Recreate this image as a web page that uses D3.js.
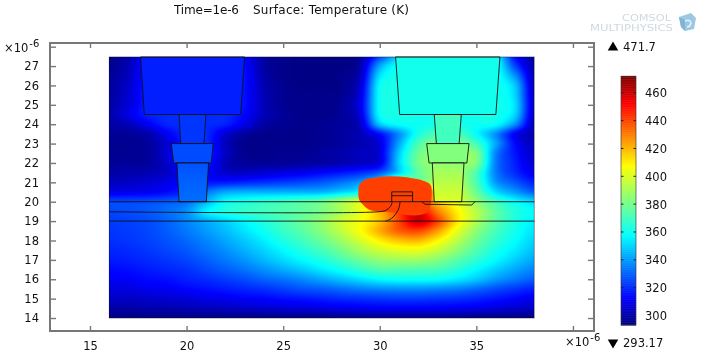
<!DOCTYPE html>
<html>
<head>
<meta charset="utf-8">
<style>
    html, body { margin: 0; padding: 0; background: #fff; }
    #chart { position: relative; width: 717px; height: 357px; overflow: hidden; }
    #chart canvas, #chart svg { position: absolute; left: 0; top: 0; }
    text { font-family: "DejaVu Sans", sans-serif; fill: #111; }
</style>
<script src="https://cdn.jsdelivr.net/npm/d3@7"></script>
</head>
<body>
<div id="chart"></div>
<script>
// temperature samples (K), columns 16..38 um, rows bottom to top
const gridX = d3.range(16, 39)
const gridY = d3.range(14, 28, 0.5)
const gridT = [
    [294,294,294,294,294,294,294,294,294,294,294,294,295,295,295,295,295,295,295,294,294,294,294],
    [299,299,300,300,301,302,303,304,305,306,307,308,309,310,311,311,311,311,310,309,307,305,303],
    [304,304,305,306,307,309,310,312,313,315,316,318,320,321,322,323,323,322,321,319,316,313,310],
    [308,308,310,311,313,315,317,319,321,324,327,329,332,335,337,338,338,337,335,331,326,322,318],
    [311,312,314,315,318,320,323,326,330,333,337,342,347,352,357,359,359,358,354,348,340,334,329],
    [314,315,317,319,321,325,329,333,338,343,348,354,360,367,373,373,372,371,365,357,349,342,336],
    [317,318,320,322,325,329,334,339,345,351,357,363,371,379,386,388,388,383,375,366,357,349,342],
    [319,320,322,325,328,333,338,344,350,357,364,371,380,390,398,402,403,396,385,373,362,354,347],
    [321,322,324,327,331,336,342,348,355,363,370,378,388,399,410,418,420,409,394,379,367,358,350],
    [322,323,325,329,334,340,346,353,360,368,375,384,395,407,422,436,440,425,403,385,371,361,353],
    [323,324,326,330,336,343,350,357,364,371,378,386,397,406,418,440,460,440,412,392,375,363,355],
    [325,326,328,332,338,355,363,367,370,373,376,381,390,403,420,441,455,430,410,393,376,364,358],
    [325,325,326,328,332,344,358,362,366,369,373,378,389,403,425,441,440,418,403,386,370,358,351],
    [309,310,311,314,320,333,342,344,344,344,344,345,350,360,400,441,441,415,398,378,352,340,330],
    [303,304,306,309,315,316,317,319,321,323,325,328,333,340,360,400,385,393,393,372,340,328,318],
    [299,300,301,304,314,313,305,304,306,308,310,313,316,320,328,350,376,388,388,372,335,320,310],
    [297,297,298,305,318,318,302,297,297,297,298,299,301,304,309,350,380,386,386,382,335,318,306],
    [296,296,297,307,320,320,304,296,295,296,296,298,300,303,308,348,378,385,385,382,336,316,304],
    [296,296,298,306,320,320,303,295,295,295,295,296,298,301,308,342,372,382,382,370,342,314,302],
    [297,297,300,311,320,320,306,298,295,295,295,296,298,302,315,338,362,372,372,358,338,312,300],
    [299,302,311,319,320,320,318,309,299,296,295,296,298,304,348,358,360,361,361,360,358,338,301],
    [300,309,318,320,320,320,320,313,302,297,295,295,297,308,358,361,361,361,361,361,361,350,303],
    [299,307,318,320,320,320,320,315,302,296,295,295,297,310,359,361,361,361,361,361,361,352,304],
    [298,306,318,320,320,320,320,315,302,296,295,295,296,308,359,361,361,361,361,361,361,350,303],
    [298,305,318,320,320,320,320,315,301,296,294,294,295,306,358,361,361,361,361,361,361,348,302],
    [297,303,318,320,320,320,320,315,300,295,294,294,295,303,352,361,361,361,361,361,361,338,301],
    [296,302,318,320,320,320,320,314,299,295,294,294,294,300,342,360,361,361,361,361,361,325,300],
    [295,300,316,320,320,320,320,312,298,295,294,294,294,298,325,350,361,361,361,361,358,315,298]
]

// subdomains: outline in um and the temperature inside it
const leftTopMetal = [[17.62,27.47],[17.81,24.5],[22.8,24.5],[23,27.47]]
const leftUpperVia = [[19.61,24.5],[19.69,23],[20.9,23],[21,24.5]]
const leftMidMetal = [[19.21,23],[21.38,23],[21.28,22],[19.33,22]]
const leftLowerVia = [[19.5,22],[19.61,20],[21.02,20],[21.14,22]]
const rightTopMetal = [[30.82,27.47],[31.03,24.5],[36.01,24.5],[36.22,27.47]]
const rightUpperVia = [[32.82,24.5],[32.93,23],[34.11,23],[34.22,24.5]]
const rightMidMetal = [[32.43,23],[34.62,23],[34.51,22],[32.55,22]]
const rightLowerVia = [[32.72,22],[32.82,20],[34.24,20],[34.36,22]]
const hotBlob = [[28.89,20.43],[28.94,20.86],[29.15,21.08],[29.58,21.22],[30.53,21.32],[31.39,21.26],[32.25,21.08],[32.63,20.86],[32.69,20.43],[32.63,19.83],[32.51,19.48],[32.08,19.31],[31.39,19.31],[30.87,19.43],[30.18,19.47],[29.49,19.57],[29.15,19.83],[28.94,20.09]]
const gateBox = [[30.62,20],[30.62,20.51],[31.7,20.51],[31.7,20]]
const drainCap = [[32.17,20],[32.34,19.87],[34.76,19.83],[34.93,20]]

const domainTemps = [
    { outline: leftTopMetal, temp: 318, tempLow: 318 },
    { outline: leftUpperVia, temp: 322, tempLow: 322 },
    { outline: leftMidMetal, temp: 326, tempLow: 326 },
    { outline: leftLowerVia, temp: 327, tempLow: 332 },
    { outline: rightTopMetal, temp: 361, tempLow: 361 },
    { outline: rightUpperVia, temp: 370, tempLow: 370 },
    { outline: rightMidMetal, temp: 383, tempLow: 383 },
    { outline: rightLowerVia, temp: 386, tempLow: 401 }
]

const layerLines = [
    [[16,20],[38,20]],
    [[16,19],[38,19]],
    [[31.7,20.31],[30.62,20.31]]
]
const curvedLines = [
    [[16,19.48],[29.9,19.48],[30.3,19.55],[30.55,19.75],[30.65,20]],
    [[30.3,19],[30.6,19.13],[30.85,19.4],[31,19.7],[31.05,20]]
]

const xTicks = [15, 20, 25, 30, 35, 40]
const xLabels = [15, 20, 25, 30, 35]
const yTicks = d3.range(14, 29)
const yLabels = d3.range(14, 28)
const barLabels = [300, 320, 340, 360, 380, 400, 420, 440, 460]
const tempMin = 293.17
const tempMax = 471.7

const jetStops = [0, 0.11, 0.36, 0.64, 0.89, 1]
const jetColors = ['#000080', '#0000ff', '#00ffff', '#ffff00', '#ff0000', '#800000']

const width = 717
const height = 357

const x = d3.scaleLinear().domain([12.93, 41.09]).range([50, 594])
const y = d3.scaleLinear().domain([28.19, 13.33]).range([43, 331])
const barY = d3.scaleLinear().domain([tempMin, tempMax]).range([325, 76.5])
const color = d3.scaleLinear()
    .domain(jetStops.map(t => tempMin + t * (tempMax - tempMin)))
    .range(jetColors)
    .clamp(true)

const chart = d3.select('#chart')

// field, sampled per pixel with a clamped catmull-rom through the grid
const cubic = (a, b, c, d, t) => {
    const v = b + 0.5 * t * (c - a + t * (2 * a - 5 * b + 4 * c - d + t * (3 * (b - c) + d - a)))
    return Math.max(Math.min(b, c) - 1, Math.min(Math.max(b, c) + 1, v))
}
const cols = gridX.length
const rows = gridY.length
const sampleField = (ux, uy) => {
    const fx = Math.max(0, Math.min(cols - 1.001, ux - gridX[0]))
    const fy = Math.max(0, Math.min(rows - 1.001, (uy - gridY[0]) * 2))
    const i = Math.floor(fx)
    const j = Math.floor(fy)
    const inCol = r => {
        const row = gridT[Math.max(0, Math.min(rows - 1, r))]
        const at = k => row[Math.max(0, Math.min(cols - 1, k))]
        return cubic(at(i - 1), at(i), at(i + 1), at(i + 2), fx - i)
    }
    return cubic(inCol(j - 1), inCol(j), inCol(j + 1), inCol(j + 2), fy - j)
}

const canvas = chart.append('canvas').attr('width', width).attr('height', height)
const ctx = canvas.node().getContext('2d')
const x0 = Math.round(x(16))
const x1 = Math.round(x(38))
const y0 = Math.round(y(27.47))
const y1 = Math.round(y(14))
for (let py = y0; py < y1; py++) {
    for (let px = x0; px < x1; px++) {
        ctx.fillStyle = color(sampleField(x.invert(px + 0.5), y.invert(py + 0.5)))
        ctx.fillRect(px, py, 1, 1)
    }
}

const svg = chart.append('svg').attr('width', width).attr('height', height)
const defs = svg.append('defs')

const outline = d3.line().x(d => x(d[0])).y(d => y(d[1]))
const smooth = d3.line().x(d => x(d[0])).y(d => y(d[1])).curve(d3.curveCatmullRom)
const blobPath = d3.line().x(d => x(d[0])).y(d => y(d[1])).curve(d3.curveCatmullRomClosed)

svg.append('path')
    .attr('d', blobPath(hotBlob))
    .attr('fill', color(441))

domainTemps.forEach((d, i) => {
    const grad = defs.append('linearGradient')
        .attr('id', `domain-${i}`)
        .attr('gradientUnits', 'userSpaceOnUse')
        .attr('x1', 0).attr('x2', 0)
        .attr('y1', y(d.outline[0][1])).attr('y2', y(d.outline[1][1]))
    grad.append('stop').attr('offset', 0).attr('stop-color', color(d.temp))
    grad.append('stop').attr('offset', 1).attr('stop-color', color(d.tempLow))
})

svg.selectAll('.domain-fill')
    .data(domainTemps)
    .join('path')
    .attr('class', 'domain-fill')
    .attr('d', d => outline(d.outline) + 'Z')
    .attr('fill', (d, i) => `url(#domain-${i})`)
    .attr('stroke', '#111')
    .attr('stroke-width', 0.9)

const thin = sel => sel.attr('fill', 'none').attr('stroke', '#111').attr('stroke-width', 0.9)

svg.selectAll('.layer').data(layerLines).join('path').attr('class', 'layer')
    .attr('d', d => outline(d)).call(thin)
svg.selectAll('.curved').data(curvedLines).join('path').attr('class', 'curved')
    .attr('d', d => smooth(d)).call(thin)
svg.append('path').attr('d', outline(gateBox)).call(thin)
svg.append('path').attr('d', outline(drainCap)).call(thin)
svg.append('rect')
    .attr('x', x(16)).attr('y', y(27.47))
    .attr('width', x(38) - x(16)).attr('height', y(14) - y(27.47))
    .call(thin).attr('stroke-opacity', 0.5)

// axes, ticks pointing into the frame on all four sides
const frameColor = '#777'
const styleAxis = g => {
    g.select('.domain').remove()
    g.selectAll('.tick line').attr('stroke', frameColor).attr('stroke-width', 1.4)
    g.selectAll('text').attr('font-family', '"DejaVu Sans", sans-serif').attr('font-size', 11.5).attr('fill', '#111')
}
const xFormat = d => xLabels.includes(d) ? d : ''
const yFormat = d => yLabels.includes(d) ? d : ''

svg.append('g').attr('transform', `translate(0,${y.range()[1]})`)
    .call(d3.axisBottom(x).tickValues(xTicks).tickFormat(xFormat).tickSize(-5).tickPadding(11))
    .call(styleAxis)
svg.append('g').attr('transform', `translate(0,${y.range()[0]})`)
    .call(d3.axisTop(x).tickValues(xTicks).tickFormat('').tickSize(-5))
    .call(styleAxis)
svg.append('g').attr('transform', `translate(${x.range()[0]},0)`)
    .call(d3.axisLeft(y).tickValues(yTicks).tickFormat(yFormat).tickSize(-6).tickPadding(11))
    .call(styleAxis)
svg.append('g').attr('transform', `translate(${x.range()[1]},0)`)
    .call(d3.axisRight(y).tickValues(yTicks).tickFormat('').tickSize(-6))
    .call(styleAxis)

svg.append('rect')
    .attr('x', x.range()[0]).attr('y', y.range()[0])
    .attr('width', x.range()[1] - x.range()[0]).attr('height', y.range()[1] - y.range()[0])
    .attr('fill', 'none').attr('stroke', frameColor).attr('stroke-width', 2)

// exponent marks
const exponent = (px, py) => {
    const t = svg.append('text').attr('x', px).attr('y', py).attr('font-size', 11.5)
    t.append('tspan').text('×10')
    t.append('tspan').text('-6').attr('font-size', 10).attr('dy', -5).attr('dx', 1)
}
exponent(4, 52)
exponent(565, 346)

svg.append('text').attr('x', 174).attr('y', 14).attr('font-size', 12)
    .attr('textLength', 65).text('Time=1e-6')
svg.append('text').attr('x', 253).attr('y', 14).attr('font-size', 12)
    .attr('textLength', 156).text('Surface: Temperature (K)')

// colour bar
const barX = 621
const barW = 15
svg.selectAll('.bar-cell')
    .data(d3.range(tempMin, tempMax, 0.5))
    .join('rect')
    .attr('class', 'bar-cell')
    .attr('x', barX).attr('width', barW)
    .attr('y', d => barY(d + 0.5)).attr('height', d => barY(d) - barY(d + 0.5) + 0.5)
    .attr('fill', d => color(d))
svg.append('rect')
    .attr('x', barX).attr('y', barY(tempMax))
    .attr('width', barW).attr('height', barY(tempMin) - barY(tempMax))
    .attr('fill', 'none').attr('stroke', '#333').attr('stroke-opacity', 0.7).attr('stroke-width', 0.9)
svg.selectAll('.bar-tick-l')
    .data(barLabels)
    .join('line')
    .attr('class', 'bar-tick-l')
    .attr('x1', barX).attr('x2', barX + 2.5)
    .attr('y1', d => barY(d)).attr('y2', d => barY(d))
    .attr('stroke', '#222')
svg.selectAll('.bar-tick-r')
    .data(barLabels)
    .join('line')
    .attr('class', 'bar-tick-r')
    .attr('x1', barX + barW - 2.5).attr('x2', barX + barW)
    .attr('y1', d => barY(d)).attr('y2', d => barY(d))
    .attr('stroke', '#222')
svg.selectAll('.bar-label')
    .data(barLabels)
    .join('text')
    .attr('class', 'bar-label')
    .attr('x', 645)
    .attr('y', d => barY(d) + 4.5)
    .attr('font-size', 11.5)
    .text(d => d)

// max and min markers
const triangle = d3.symbol().type(d3.symbolTriangle).size(48)
svg.append('path').attr('d', triangle()).attr('transform', 'translate(613,47.5)').attr('fill', '#000')
svg.append('path').attr('d', triangle()).attr('transform', 'translate(613,342.5) rotate(180)').attr('fill', '#000')
svg.append('text').attr('x', 623).attr('y', 51).attr('font-size', 11.5).text(tempMax)
svg.append('text').attr('x', 623).attr('y', 347).attr('font-size', 11.5).text(tempMin)

// logo
const logo = svg.append('g')
logo.append('text').attr('x', 622).attr('y', 21).attr('font-size', 9.5)
    .attr('textLength', 49).attr('lengthAdjust', 'spacingAndGlyphs').style('fill', '#cfd9e0').text('COMSOL')
logo.append('text').attr('x', 590).attr('y', 30.5).attr('font-size', 9.5)
    .attr('textLength', 83).attr('lengthAdjust', 'spacingAndGlyphs').style('fill', '#cfd9e0').text('MULTIPHYSICS')
logo.append('path').attr('d', 'M679 17L691 13L696 18L694 29L685 31L681 27Z').attr('fill', '#9cc8e4')
logo.append('path').attr('d', 'M679 17L685 20L685 31L681 27Z').attr('fill', '#7fb4d8')
logo.append('path').attr('d', 'M685 21Q690 19 691 23Q690 27 687 27').attr('fill', 'none').attr('stroke', '#e6f2f8').attr('stroke-width', 1.5)
</script>
</body>
</html>
